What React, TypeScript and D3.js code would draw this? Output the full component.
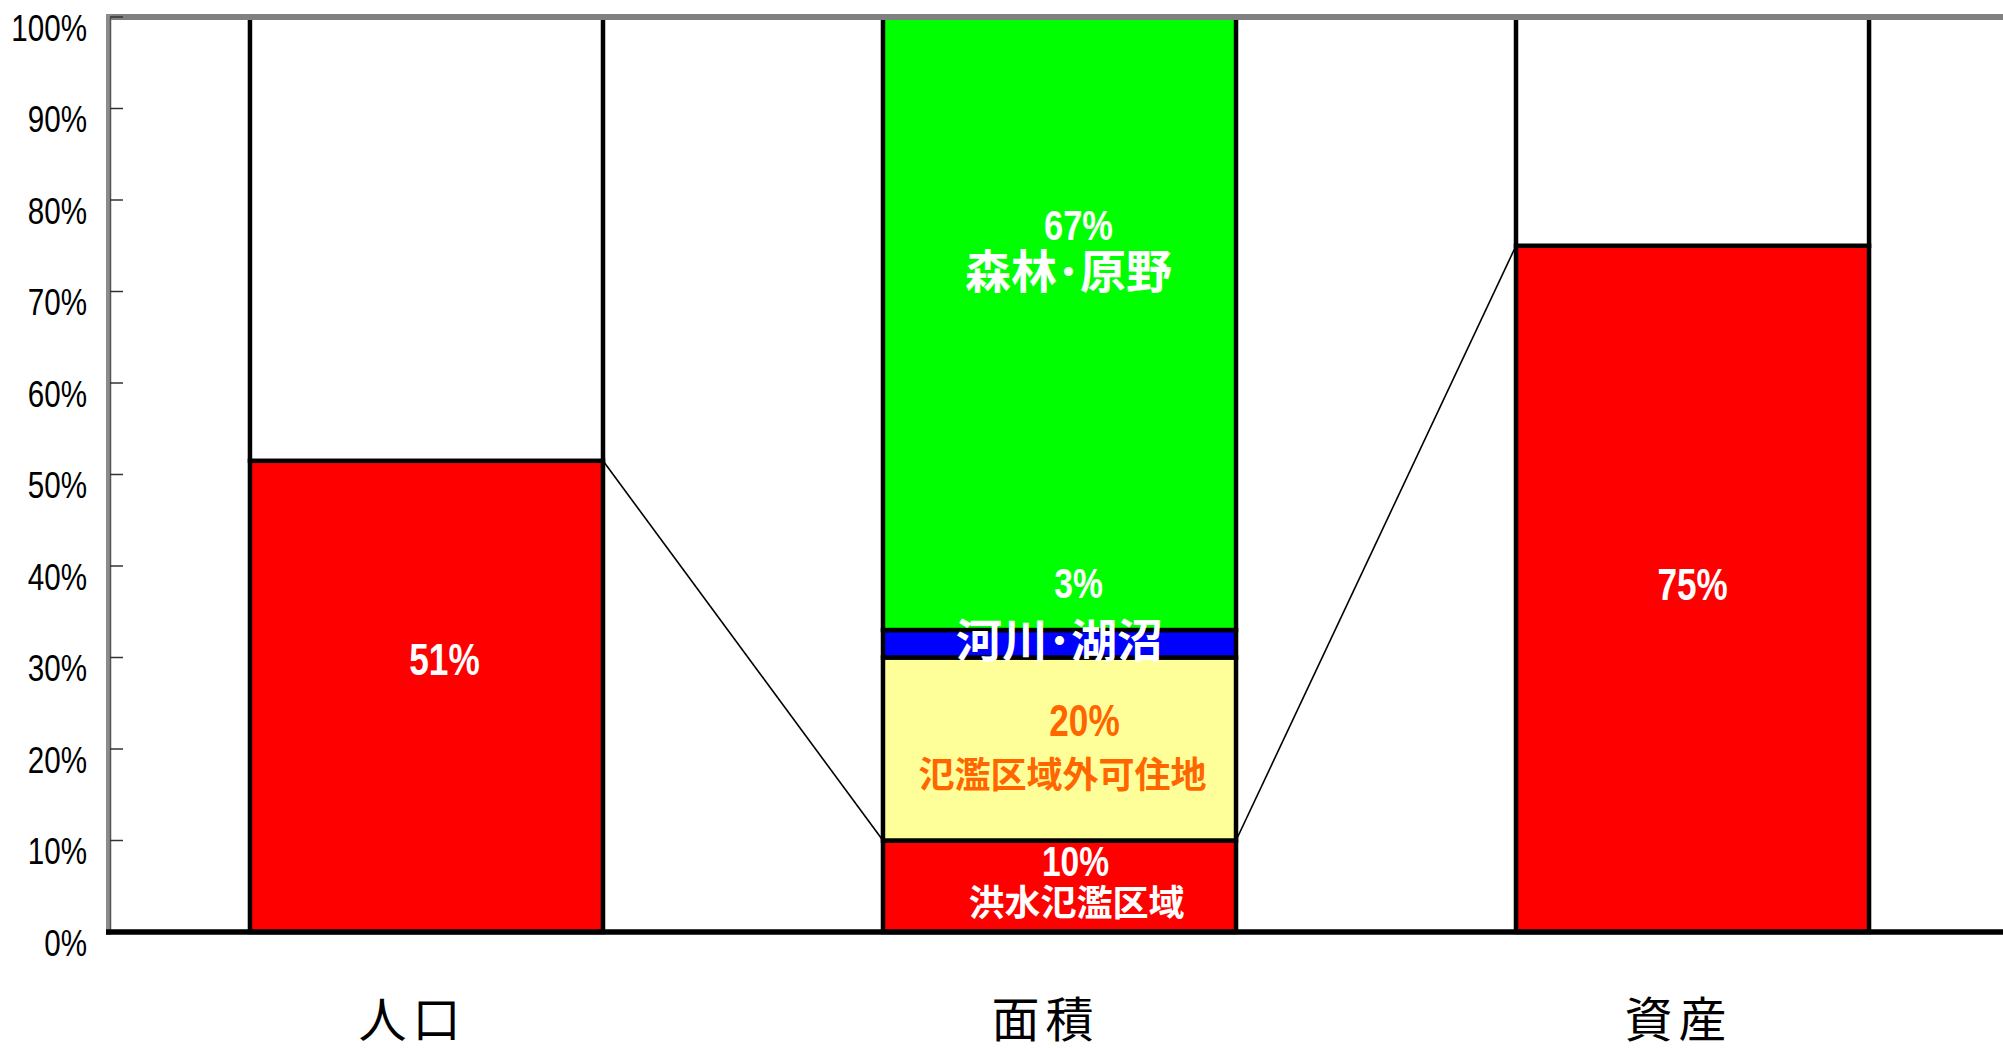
import React from "react";
import * as d3 from "d3";

const categories = ["人口", "面積", "資産"];
// stacked segments per category (bottom to top), percent values
const populationValues = [51.5, 48.5];
const areaValues = [10, 20, 3, 67];
const assetValues = [75, 25];
const areaNames = ["洪水氾濫区域", "氾濫区域外可住地", "河川･湖沼", "森林･原野"];
const areaLabels = ["10%", "20%", "3%", "67%"];
const populationLabel = "51%";
const assetLabel = "75%";
const yTicks = [0, 10, 20, 30, 40, 50, 60, 70, 80, 90, 100];

const W = 2003;
const H = 1048;
const left = 110;
const top = 17;
const bottom = 932;

const RED = "#FF0000";
const GREEN = "#00FF00";
const BLUE = "#0000FF";
const YELLOW = "#FFFF99";
const ORANGE = "#FF6600";
const WHITE = "#FFFFFF";

export default function App() {
  const x = d3
    .scaleBand<string>()
    .domain(categories)
    .range([left, 2009])
    .paddingInner(0.4423)
    .paddingOuter(0.2211);
  const y = d3.scaleLinear().domain([0, 100]).range([bottom, top]);
  const bw = x.bandwidth();

  const stacks: { cat: string; values: number[]; colors: string[] }[] = [
    { cat: categories[0], values: populationValues, colors: [RED, WHITE] },
    { cat: categories[1], values: areaValues, colors: [RED, YELLOW, BLUE, GREEN] },
    { cat: categories[2], values: assetValues, colors: [RED, WHITE] },
  ];

  const rects: JSX.Element[] = [];
  stacks.forEach((s) => {
    let acc = 0;
    s.values.forEach((v, i) => {
      const y0 = y(acc);
      const y1 = y(acc + v);
      rects.push(
        <rect
          key={s.cat + i}
          x={x(s.cat)!}
          y={y1}
          width={bw}
          height={y0 - y1}
          fill={s.colors[i]}
          stroke="#000"
          strokeWidth={4.5}
        />
      );
      acc += v;
    });
  });

  const c0 = x(categories[0])!;
  const c1 = x(categories[1])!;
  const c2 = x(categories[2])!;
  const mid1 = c1 + bw / 2;

  // cumulative tops for area
  const cum = areaValues.map((_, i) => d3.sum(areaValues.slice(0, i + 1)));

  const pctText = (
    key: string,
    cx: number,
    baseline: number,
    text: string,
    fill: string,
    bold: boolean,
    size: number,
    sx: number
  ) => (
    <text
      key={key}
      transform={`translate(${cx},${baseline}) scale(${sx},1)`}
      textAnchor="middle"
      fontFamily="'Liberation Sans', Arial, sans-serif"
      fontWeight={bold ? 700 : 400}
      fontSize={size}
      fill={fill}
    >
      {text}
    </text>
  );

  const jpText = (
    key: string,
    cx: number,
    baseline: number,
    text: string,
    fill: string,
    size: number
  ) => (
    <text
      key={key}
      x={cx}
      y={baseline}
      textAnchor="middle"
      fontFamily="'Noto Sans CJK JP', sans-serif"
      fontWeight={700}
      fontSize={size}
      fill={fill}
    >
      {text}
    </text>
  );

  return (
    <div style={{ position: "absolute", left: 0, top: 0 }}>
      <svg width={W} height={H} style={{ display: "block", background: "#fff" }}>
        {rects}
        {/* connector lines */}
        <line
          x1={c0 + bw}
          y1={y(populationValues[0])}
          x2={c1}
          y2={y(areaValues[0])}
          stroke="#000"
          strokeWidth={1.6}
        />
        <line
          x1={c1 + bw}
          y1={y(areaValues[0])}
          x2={c2}
          y2={y(assetValues[0])}
          stroke="#000"
          strokeWidth={1.6}
        />
        {/* frame */}
        <line x1={left - 2} y1={top} x2={W} y2={top} stroke="#808080" strokeWidth={6} />
        <line x1={left - 1.5} y1={top - 3} x2={left - 1.5} y2={bottom + 3} stroke="#8c8c8c" strokeWidth={5} />
        <line x1={left + 0.5} y1={top} x2={left + 0.5} y2={bottom} stroke="#555" strokeWidth={1.5} />
        {yTicks.map((t) => (
          <line key={"tk" + t} x1={left} x2={left + 13} y1={y(t)} y2={y(t)} stroke="#333" strokeWidth={1.5} />
        ))}
        <line x1={left - 4} y1={bottom} x2={W} y2={bottom} stroke="#000" strokeWidth={5.5} />
        {/* y tick labels */}
        {yTicks.map((t) => (
          <text
            key={"yl" + t}
            transform={`translate(87,${y(t) + 23.5}) scale(0.8,1)`}
            textAnchor="end"
            fontFamily="'Liberation Sans', Arial, sans-serif"
            fontSize={37}
            fill="#000"
          >
            {t + "%"}
          </text>
        ))}
        {/* category labels */}
        {categories.map((c) => (
          <text
            key={"cat" + c}
            x={x(c)! + bw / 2 - 14}
            y={1037}
            textAnchor="middle"
            fontFamily="'Noto Sans CJK JP', sans-serif"
            fontSize={48}
            letterSpacing={6}
            fill="#000"
          >
            {c}
          </text>
        ))}
        {/* value labels */}
        {pctText("p51", c0 + bw / 2 + 18, 675, populationLabel, "#fff", true, 44, 0.8)}
        {pctText("p75", c2 + bw / 2, 600, assetLabel, "#fff", true, 45, 0.78)}
        {pctText("a10", mid1 + 16, y(cum[0]) + 35, areaLabels[0], "#fff", true, 42, 0.8)}
        {jpText("n10", mid1 + 17, y(cum[0]) + 75, areaNames[0], "#fff", 36)}
        {pctText("a20", mid1 + 25, y(cum[1]) + 78, areaLabels[1], ORANGE, true, 44, 0.8)}
        {jpText("n20", mid1 + 3, y(cum[1]) + 130, areaNames[1], ORANGE, 36)}
        {pctText("a3", mid1 + 19, y(cum[2]) - 32, areaLabels[2], "#fff", true, 42, 0.8)}
        {jpText("n3", mid1, y(cum[2]) + 27, areaNames[2], "#fff", 46)}
        {pctText("a67", mid1 + 19, 240, areaLabels[3], "#fff", true, 42, 0.82)}
        {jpText("n67", mid1 + 9, 288, areaNames[3], "#fff", 46)}
      </svg>
    </div>
  );
}
